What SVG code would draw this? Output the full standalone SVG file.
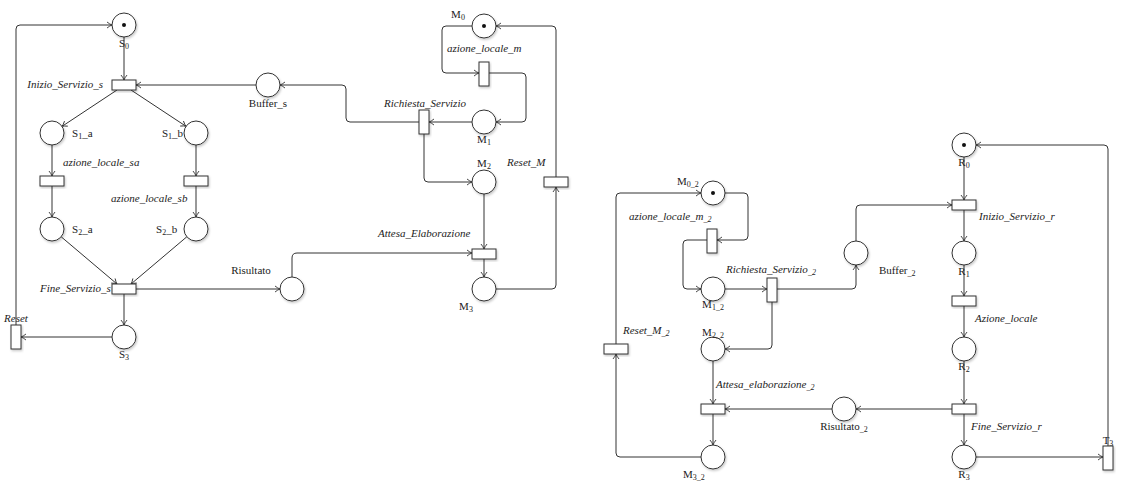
<svg xmlns="http://www.w3.org/2000/svg" width="1137" height="492" viewBox="0 0 1137 492">
<defs>
<style>
.pl{fill:#fff;stroke:#333;stroke-width:1;filter:url(#sh)}
.tr{fill:#fff;stroke:#333;stroke-width:1;filter:url(#sh)}
.tok{fill:#111}
.ln{fill:none;stroke:#333;stroke-width:1;marker-end:url(#arr)}
.t{font-family:"Liberation Serif","DejaVu Serif",serif;font-size:11px;fill:#222}
.i{font-style:italic}
.m{text-anchor:middle}
.e{text-anchor:end}
.sub{font-size:8px}
</style>
<filter id="sh" x="-30%" y="-30%" width="160%" height="160%">
<feDropShadow dx="1" dy="1.5" stdDeviation="1" flood-color="#000" flood-opacity="0.22"/>
</filter>
<marker id="arr" viewBox="-6 -4 7 8" refX="0" refY="0" markerWidth="7" markerHeight="8" orient="auto" markerUnits="userSpaceOnUse">
<path d="M-5,-3 Q-2,-0.6 0,0 Q-2,0.6 -5,3" fill="none" stroke="#333" stroke-width="0.9"/>
</marker>
</defs>
<rect x="0" y="0" width="1137" height="492" fill="#fff"/>

<g id="connectors">
<path class="ln" d="M124 37 V80"/>
<path class="ln" d="M117 90 L62 126.4"/>
<path class="ln" d="M131 90 L186 126.3"/>
<path class="ln" d="M52 145 V176"/>
<path class="ln" d="M52 186 V217"/>
<path class="ln" d="M196 145 V176"/>
<path class="ln" d="M196 186 V217"/>
<path class="ln" d="M61.2 236.8 L117 284"/>
<path class="ln" d="M186.8 236.8 L131 284"/>
<path class="ln" d="M124 294 V325"/>
<path class="ln" d="M136 289 H280"/>
<path class="ln" d="M112 337 H21"/>
<path class="ln" d="M16 325 V29 Q16 25 20 25 H112"/>
<path class="ln" d="M256 85 H136"/>
<path class="ln" d="M419 122 H350 Q346 122 346 118 V89 Q346 85 342 85 H280"/>
<path class="ln" d="M472 122 H429"/>
<path class="ln" d="M472 26 H446 Q442 26 442 30 V69 Q442 73 446 73 H479"/>
<path class="ln" d="M489 73 H522 Q526 73 526 77 V118 Q526 122 522 122 H496"/>
<path class="ln" d="M424 134 V178 Q424 182 428 182 H472"/>
<path class="ln" d="M484 194 V249"/>
<path class="ln" d="M292 277 V258 Q292 253 297 253 H472"/>
<path class="ln" d="M484 259 V277"/>
<path class="ln" d="M496 289 H552 Q556 289 556 285 V187"/>
<path class="ln" d="M556 177 V30 Q556 26 552 26 H496"/>

<path class="ln" d="M616 344 V197 Q616 193 620 193 H701"/>
<path class="ln" d="M725 193 H744 Q748 193 748 197 V236 Q748 240 744 240 H717"/>
<path class="ln" d="M707 240 H687 Q683 240 683 244 V285 Q683 289 687 289 H701"/>
<path class="ln" d="M725 289 H767"/>
<path class="ln" d="M777 289 H852 Q856 289 856 285 V265"/>
<path class="ln" d="M856 241 V209 Q856 205 860 205 H952"/>
<path class="ln" d="M964 157 V200"/>
<path class="ln" d="M964 210 V241"/>
<path class="ln" d="M964 265 V296"/>
<path class="ln" d="M964 306 V337"/>
<path class="ln" d="M964 361 V404"/>
<path class="ln" d="M952 409 H856"/>
<path class="ln" d="M964 414 V445"/>
<path class="ln" d="M976 457 H1103"/>
<path class="ln" d="M1108 446 V149 Q1108 145 1104 145 H976"/>
<path class="ln" d="M832 409 H725"/>
<path class="ln" d="M772 302 V345 Q772 349 768 349 H725"/>
<path class="ln" d="M713 361 V404"/>
<path class="ln" d="M713 414 V445"/>
<path class="ln" d="M701 457 H620 Q616 457 616 453 V354"/>
</g>

<!-- Left net -->
<g id="S0"><circle class="pl" cx="124" cy="25" r="12"/><circle class="tok" cx="124" cy="25" r="2"/><text class="t m" x="124" y="47">S<tspan class="sub" dy="2">0</tspan></text></g>
<g id="Inizio_Servizio_s"><rect class="tr" x="112" y="80" width="24" height="10"/><text class="t i e" x="103" y="88">Inizio_Servizio_s</text></g>
<g id="Buffer_s"><circle class="pl" cx="268" cy="85" r="12"/><text class="t m" x="268" y="107">Buffer_s</text></g>
<g id="S1_a"><circle class="pl" cx="52" cy="133" r="12"/><text class="t" x="72" y="137">S<tspan class="sub" dy="2">1</tspan><tspan dy="-2">_a</tspan></text></g>
<g id="S1_b"><circle class="pl" cx="196" cy="133" r="12"/><text class="t e" x="183" y="137">S<tspan class="sub" dy="2">1</tspan><tspan dy="-2">_b</tspan></text></g>
<g id="azione_locale_sa"><rect class="tr" x="40" y="176" width="24" height="10"/><text class="t i" x="63" y="166">azione_locale_sa</text></g>
<g id="azione_locale_sb"><rect class="tr" x="184" y="176" width="24" height="10"/><text class="t i" x="111" y="202">azione_locale_sb</text></g>
<g id="S2_a"><circle class="pl" cx="52" cy="229" r="12"/><text class="t" x="72" y="233">S<tspan class="sub" dy="2">2</tspan><tspan dy="-2">_a</tspan></text></g>
<g id="S2_b"><circle class="pl" cx="196" cy="229" r="12"/><text class="t" x="156" y="233">S<tspan class="sub" dy="2">2</tspan><tspan dy="-2">_b</tspan></text></g>
<g id="Fine_Servizio_s"><text class="t i" x="40" y="292">Fine_Servizio_s</text><rect class="tr" x="112" y="284" width="24" height="10"/></g>
<g id="S3"><circle class="pl" cx="124" cy="337" r="12"/><text class="t m" x="124" y="358">S<tspan class="sub" dy="2">3</tspan></text></g>
<g id="Reset"><rect class="tr" x="11" y="325" width="10" height="24"/><text class="t i m" x="16" y="322">Reset</text></g>
<g id="Risultato"><circle class="pl" cx="292" cy="289" r="12"/><text class="t m" x="251" y="274">Risultato</text></g>
<g id="Richiesta_Servizio"><rect class="tr" x="419" y="110" width="10" height="24"/><text class="t i m" x="425" y="107">Richiesta_Servizio</text></g>
<g id="M0"><circle class="pl" cx="484" cy="26" r="12"/><circle class="tok" cx="484" cy="26" r="2"/><text class="t m" x="458" y="18">M<tspan class="sub" dy="2">0</tspan></text></g>
<g id="azione_locale_m"><rect class="tr" x="479" y="62" width="10" height="24"/><text class="t i" x="447" y="52">azione_locale_m</text></g>
<g id="M1"><circle class="pl" cx="484" cy="122" r="12"/><text class="t m" x="484" y="143">M<tspan class="sub" dy="2">1</tspan></text></g>
<g id="M2"><circle class="pl" cx="484" cy="182" r="12"/><text class="t m" x="484" y="167">M<tspan class="sub" dy="2">2</tspan></text></g>
<g id="Reset_M"><rect class="tr" x="544" y="177" width="24" height="10"/><text class="t i" x="507" y="166">Reset_M</text></g>
<g id="Attesa_Elaborazione"><rect class="tr" x="472" y="249" width="24" height="10"/><text class="t i" x="378" y="237">Attesa_Elaborazione</text></g>
<g id="M3"><circle class="pl" cx="484" cy="289" r="12"/><text class="t m" x="466" y="310">M<tspan class="sub" dy="2">3</tspan></text></g>

<!-- Right net -->
<g id="M0_2"><circle class="pl" cx="713" cy="193" r="12"/><circle class="tok" cx="713" cy="193" r="2"/><text class="t" x="677" y="185">M<tspan class="sub" dy="2">0_2</tspan></text></g>
<g id="azione_locale_m_2"><rect class="tr" x="707" y="229" width="10" height="24"/><text class="t i" x="629" y="220">azione_locale_m<tspan class="sub" dy="2">_2</tspan></text></g>
<g id="M1_2"><circle class="pl" cx="713" cy="289" r="12"/><text class="t m" x="713" y="308">M<tspan class="sub" dy="2">1_2</tspan></text></g>
<g id="Richiesta_Servizio_2"><rect class="tr" x="767" y="278" width="10" height="24"/><text class="t i" x="726" y="273">Richiesta_Servizio<tspan class="sub" dy="2">_2</tspan></text></g>
<g id="Buffer_2"><circle class="pl" cx="856" cy="253" r="12"/><text class="t" x="879" y="274">Buffer<tspan class="sub" dy="2">_2</tspan></text></g>
<g id="R0"><circle class="pl" cx="964" cy="145" r="12"/><circle class="tok" cx="964" cy="145" r="2"/><text class="t m" x="964" y="166">R<tspan class="sub" dy="2">0</tspan></text></g>
<g id="Inizio_Servizio_r"><rect class="tr" x="952" y="200" width="24" height="10"/><text class="t i" x="979" y="220">Inizio_Servizio_r</text></g>
<g id="R1"><circle class="pl" cx="964" cy="253" r="12"/><text class="t m" x="964" y="275">R<tspan class="sub" dy="2">1</tspan></text></g>
<g id="Azione_locale"><rect class="tr" x="952" y="296" width="24" height="10"/><text class="t i" x="975" y="322">Azione_locale</text></g>
<g id="R2"><circle class="pl" cx="964" cy="349" r="12"/><text class="t m" x="964" y="370">R<tspan class="sub" dy="2">2</tspan></text></g>
<g id="Fine_Servizio_r"><rect class="tr" x="952" y="404" width="24" height="10"/><text class="t i" x="971" y="430">Fine_Servizio_r</text></g>
<g id="R3"><circle class="pl" cx="964" cy="457" r="12"/><text class="t m" x="964" y="478">R<tspan class="sub" dy="2">3</tspan></text></g>
<g id="T3"><rect class="tr" x="1103" y="446" width="10" height="24"/><text class="t m" x="1108" y="444">T<tspan class="sub" dy="2">3</tspan></text></g>
<g id="Risultato_2"><circle class="pl" cx="844" cy="409" r="12"/><text class="t m" x="844" y="430">Risultato<tspan class="sub" dy="2">_2</tspan></text></g>
<g id="M2_2"><circle class="pl" cx="713" cy="349" r="12"/><text class="t m" x="713" y="336">M<tspan class="sub" dy="2">2_2</tspan></text></g>
<g id="Attesa_elaborazione_2"><rect class="tr" x="701" y="404" width="24" height="10"/><text class="t i" x="716" y="388">Attesa_elaborazione<tspan class="sub" dy="2">_2</tspan></text></g>
<g id="M3_2"><circle class="pl" cx="713" cy="457" r="12"/><text class="t" x="683" y="478">M<tspan class="sub" dy="2">3_2</tspan></text></g>
<g id="Reset_M_2"><rect class="tr" x="604" y="344" width="24" height="10"/><text class="t i" x="623" y="334">Reset_M<tspan class="sub" dy="2">_2</tspan></text></g>
</svg>
